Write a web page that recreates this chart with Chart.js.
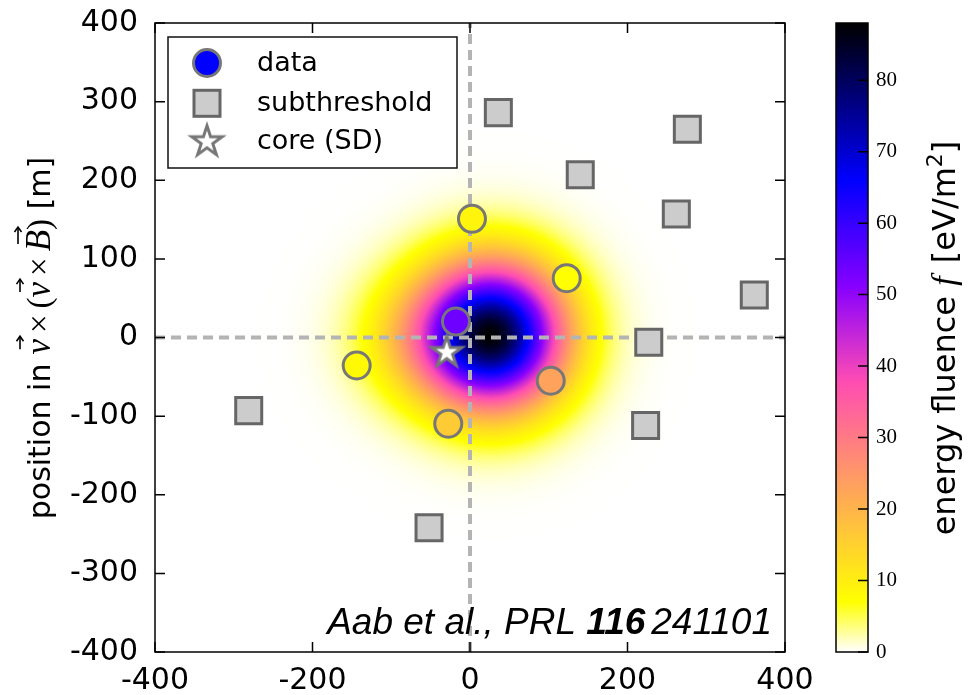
<!DOCTYPE html>
<html><head><meta charset="utf-8">
<style>html,body{margin:0;padding:0;background:#fff;}#wrap{width:974px;height:695px;}</style>
<script src="https://cdn.jsdelivr.net/npm/chart.js@4.4.1/dist/chart.umd.min.js"></script>
</head><body><div id="wrap"><canvas id="c" width="974" height="695"></canvas></div>
<script>
// ---- data ----
const xTicks = [-400, -200, 0, 200, 400];
const yTicks = [-400, -300, -200, -100, 0, 100, 200, 300, 400];
const cbTicks = [0, 10, 20, 30, 40, 50, 60, 70, 80];
const cbMax = 88;
// stations with signal ("data"): position and measured fluence
const dataX = [2.5, 122.8, -17.8, -143.9, 102.5, -27.6];
const dataY = [151, 75.4, 20.3, -35.6, -55, -109.6];
const dataF = [9, 7, 54, 8, 23, 16];
// subthreshold stations
const subX = [36, 140, 276, 262, 361, 227, 223, -281, -52];
const subY = [286, 207, 265, 157, 54, -6, -112, -93, -242];
// shower core (SD)
const coreX = [-29.6];
const coreY = [-19];
// fitted fluence footprint (two gaussian components)
const ldfCenterX = [28, -70];
const ldfCenterY = [3, 0];
const ldfAmp = [86, 9];
const ldfWidth = [62, 55];

const clamp = v => Math.max(0, Math.min(1, v));
function cmap(v) { // gnuplot2 reversed
  const x = 1 - clamp(v / cbMax);
  const r = clamp(x / 0.32 - 0.78125);
  const g = clamp(2 * x - 0.84);
  const b = clamp(x < 0.25 ? 4 * x : (x < 0.92 ? -2 * x + 1.84 : x / 0.08 - 11.5));
  return [Math.round(r * 255), Math.round(g * 255), Math.round(b * 255)];
}
const cmapCss = v => { const c = cmap(v); return `rgb(${c[0]},${c[1]},${c[2]})`; };
function fluenceAt(x, y) {
  let s = 0;
  for (let k = 0; k < ldfAmp.length; k++) {
    const dx = x - ldfCenterX[k], dy = y - ldfCenterY[k];
    s += ldfAmp[k] * Math.exp(-(dx * dx + dy * dy) / (2 * ldfWidth[k] * ldfWidth[k]));
  }
  return s;
}

function makeStar(R, lw, fill, stroke) {
  const size = Math.ceil(2 * R + 2 * lw + 6);
  const c = document.createElement('canvas'); c.width = c.height = size;
  const g = c.getContext('2d');
  g.translate(size / 2, size / 2);
  g.beginPath();
  for (let i = 0; i < 10; i++) {
    const rr = i % 2 === 0 ? R : R * 0.382;
    const a = -Math.PI / 2 + i * Math.PI / 5;
    const px = rr * Math.cos(a), py = rr * Math.sin(a);
    if (i === 0) g.moveTo(px, py); else g.lineTo(px, py);
  }
  g.closePath();
  g.fillStyle = fill; g.fill();
  g.lineWidth = lw; g.lineJoin = 'miter'; g.strokeStyle = stroke; g.stroke();
  return c;
}
const starImg = makeStar(16, 3, '#ffffff', '#777777');

const SANS = '"DejaVu Sans"';
const SERIF = '"Liberation Serif"';

function drawPieces(ctx, pieces, x, y, align) {
  let total = 0;
  for (const p of pieces) {
    ctx.font = p.font;
    p.w = ctx.measureText(p.t).width + (p.pl || 0) + (p.pr || 0);
    total += p.w;
  }
  let cx = align === 'center' ? x - total / 2 : (align === 'right' ? x - total : x);
  ctx.textAlign = 'left'; ctx.textBaseline = 'alphabetic';
  for (const p of pieces) {
    ctx.font = p.font;
    const tx = cx + (p.pl || 0);
    ctx.fillText(p.t, tx, y + (p.dy || 0));
    if (p.arrow) {
      const gw = p.w - (p.pl || 0) - (p.pr || 0);
      const ay = y - p.arrow;
      const x0 = tx + gw * 0.15 + (p.ax || 0), x1 = x0 + p.al;
      ctx.save();
      ctx.lineWidth = 1.6; ctx.strokeStyle = '#000';
      ctx.beginPath(); ctx.moveTo(x0, ay); ctx.lineTo(x1, ay); ctx.stroke();
      ctx.beginPath(); ctx.moveTo(x1 - 5, ay - 3.5); ctx.lineTo(x1, ay); ctx.lineTo(x1 - 5, ay + 3.5); ctx.stroke();
      ctx.restore();
    }
    cx += p.w;
  }
}

const decor = {
  id: 'decor',
  beforeDatasetsDraw(chart) {
    const ctx = chart.ctx, a = chart.chartArea, xs = chart.scales.x, ys = chart.scales.y;
    const L = Math.round(a.left), T = Math.round(a.top);
    const W = Math.round(a.right) - L, H = Math.round(a.bottom) - T;
    const img = ctx.createImageData(W, H);
    const xv = [], yv = [];
    for (let i = 0; i < W; i++) xv.push(xs.getValueForPixel(L + i + 0.5));
    for (let j = 0; j < H; j++) yv.push(ys.getValueForPixel(T + j + 0.5));
    let k = 0;
    for (let j = 0; j < H; j++) for (let i = 0; i < W; i++) {
      const c = cmap(fluenceAt(xv[i], yv[j]));
      img.data[k++] = c[0]; img.data[k++] = c[1]; img.data[k++] = c[2]; img.data[k++] = 255;
    }
    ctx.putImageData(img, L, T);
  },
  afterDraw(chart) {
    const ctx = chart.ctx, a = chart.chartArea, xs = chart.scales.x, ys = chart.scales.y;
    ctx.save();
    // frame
    ctx.strokeStyle = '#000'; ctx.lineWidth = 1.5;
    ctx.strokeRect(a.left, a.top, a.right - a.left, a.bottom - a.top);
    // inward ticks, all four sides
    ctx.lineWidth = 1.5;
    ctx.beginPath();
    for (const v of xTicks) {
      const p = xs.getPixelForValue(v);
      ctx.moveTo(p, a.bottom); ctx.lineTo(p, a.bottom - 10);
      ctx.moveTo(p, a.top); ctx.lineTo(p, a.top + 10);
    }
    for (const v of yTicks) {
      const p = ys.getPixelForValue(v);
      ctx.moveTo(a.left, p); ctx.lineTo(a.left + 10, p);
      ctx.moveTo(a.right, p); ctx.lineTo(a.right - 10, p);
    }
    ctx.stroke();

    // legend
    const lx = 168, ly = 37, lw = 289, lh = 131;
    ctx.fillStyle = '#fff'; ctx.fillRect(lx, ly, lw, lh);
    ctx.strokeStyle = '#111'; ctx.lineWidth = 1.5; ctx.strokeRect(lx, ly, lw, lh);
    const mx = 207, rows = [63, 103.3, 141.7];
    ctx.beginPath(); ctx.arc(mx, rows[0], 13.5, 0, Math.PI * 2);
    ctx.fillStyle = '#0000ff'; ctx.fill(); ctx.lineWidth = 3; ctx.strokeStyle = '#777'; ctx.stroke();
    ctx.fillStyle = '#cccccc'; ctx.fillRect(mx - 13, rows[1] - 13, 26, 26);
    ctx.strokeStyle = '#666'; ctx.lineWidth = 3; ctx.strokeRect(mx - 13, rows[1] - 13, 26, 26);
    ctx.drawImage(starImg, mx - starImg.width / 2, rows[2] - starImg.height / 2);
    ctx.fillStyle = '#000'; ctx.font = '27px ' + SANS; ctx.textAlign = 'left'; ctx.textBaseline = 'alphabetic';
    const labels = chart.data.datasets.filter(d => d.legendLabel).map(d => d.legendLabel);
    labels.forEach((t, i) => ctx.fillText(t, 257, rows[i] + 7.5));

    // citation
    ctx.fillStyle = '#000';
    drawPieces(ctx, [
      { t: 'Aab et al., PRL ', font: 'italic 37px "Liberation Sans"' },
      { t: '116', font: 'italic bold 37px "Liberation Sans"', pr: 6 },
      { t: '241101', font: 'italic 37px "Liberation Sans"' }
    ], 772, 634, 'right');

    // y axis title
    ctx.save();
    ctx.translate(50, 338); ctx.rotate(-Math.PI / 2);
    const mi = 'italic 35px ' + SERIF, mr = '33px ' + SERIF;
    drawPieces(ctx, [
      { t: 'position in', font: '30px ' + SANS, pr: 9 },
      { t: 'v', font: mi, arrow: 30, al: 13, ax: 3 },
      { t: '×', font: mr, pl: 6, pr: 6 },
      { t: '(', font: mr },
      { t: 'v', font: mi, arrow: 30, al: 13, ax: 3 },
      { t: '×', font: mr, pl: 6, pr: 6 },
      { t: 'B', font: mi, arrow: 32, al: 17, ax: 4 },
      { t: ')', font: mr },
      { t: ' [m]', font: '30px ' + SANS }
    ], 0, 0, 'center');
    ctx.restore();

    // colorbar
    const cbL = 836, cbR = 868, cbT = a.top, cbB = a.bottom;
    for (let y = Math.floor(cbT); y < Math.ceil(cbB); y++) {
      const v = (cbB - (y + 0.5)) / (cbB - cbT) * cbMax;
      ctx.fillStyle = cmapCss(v);
      ctx.fillRect(cbL, y, cbR - cbL, 1);
    }
    ctx.strokeStyle = '#000'; ctx.lineWidth = 1.5;
    ctx.strokeRect(cbL, cbT, cbR - cbL, cbB - cbT);
    ctx.beginPath();
    ctx.font = '21px ' + SERIF; ctx.fillStyle = '#000'; ctx.textAlign = 'left'; ctx.textBaseline = 'middle';
    for (const v of cbTicks) {
      const p = cbB - v / cbMax * (cbB - cbT);
      ctx.moveTo(cbR - 10, p); ctx.lineTo(cbR, p);
      ctx.fillText(String(v), 876, p);
    }
    ctx.stroke();

    // colorbar title
    ctx.save();
    ctx.translate(955, 338); ctx.rotate(-Math.PI / 2);
    drawPieces(ctx, [
      { t: 'energy fluence ', font: '32px ' + SANS },
      { t: 'f', font: 'italic 34px ' + SERIF, pr: 3 },
      { t: ' [eV/m', font: '32px ' + SANS },
      { t: '2', font: '22px ' + SANS, dy: -13 },
      { t: ']', font: '32px ' + SANS }
    ], 0, 0, 'center');
    ctx.restore();
    ctx.restore();
  }
};

const pts = (xs, ys) => xs.map((x, i) => ({ x, y: ys[i] }));

new Chart(document.getElementById('c'), {
  type: 'scatter',
  data: {
    datasets: [
      { data: [{ x: 0, y: yTicks[0] }, { x: 0, y: yTicks[yTicks.length - 1] }], showLine: true, pointRadius: 0,
        borderColor: '#b4b4b4', borderWidth: 4, borderDash: [10, 6], order: 10 },
      { data: [{ x: xTicks[0], y: 0 }, { x: xTicks[xTicks.length - 1], y: 0 }], showLine: true, pointRadius: 0,
        borderColor: '#b4b4b4', borderWidth: 4, borderDash: [10, 6], order: 10 },
      { legendLabel: 'data', data: pts(dataX, dataY), pointStyle: 'circle', pointRadius: 13.5,
        pointBackgroundColor: dataF.map(cmapCss), pointBorderColor: '#777777', pointBorderWidth: 3, order: 2 },
      { legendLabel: 'subthreshold', data: pts(subX, subY), pointStyle: 'rect', pointRadius: 18.4,
        pointBackgroundColor: '#cccccc', pointBorderColor: '#666666', pointBorderWidth: 3, order: 3 },
      { legendLabel: 'core (SD)', data: pts(coreX, coreY), pointStyle: starImg, pointRadius: 16, order: 0 }
    ]
  },
  options: {
    responsive: false, devicePixelRatio: 1, animation: false, events: [],
    layout: { padding: { top: 23, right: 189, left: 0, bottom: 0 } },
    plugins: { legend: { display: false }, tooltip: { enabled: false } },
    scales: {
      x: {
        type: 'linear', min: xTicks[0], max: xTicks[xTicks.length - 1],
        grid: { display: false, drawTicks: false, tickLength: 0 }, border: { display: false },
        afterBuildTicks: s => { s.ticks = xTicks.map(v => ({ value: v })); },
        afterFit: s => { s.height = 43; s.paddingLeft = 0; s.paddingRight = 0; s.paddingTop = 0; s.paddingBottom = 0; },
        ticks: { autoSkip: false, maxRotation: 0, padding: 11, color: '#000', font: { family: 'DejaVu Sans', size: 30 }, callback: v => String(v) }
      },
      y: {
        type: 'linear', min: yTicks[0], max: yTicks[yTicks.length - 1],
        grid: { display: false, drawTicks: false, tickLength: 0 }, border: { display: false },
        afterBuildTicks: s => { s.ticks = yTicks.map(v => ({ value: v })); },
        afterFit: s => { s.width = 155; s.paddingLeft = 0; s.paddingRight = 0; s.paddingTop = 0; s.paddingBottom = 0; },
        ticks: { autoSkip: false, padding: 17, color: '#000', font: { family: 'DejaVu Sans', size: 30 }, callback: v => String(v) }
      }
    }
  },
  plugins: [decor]
});
</script></body></html>
